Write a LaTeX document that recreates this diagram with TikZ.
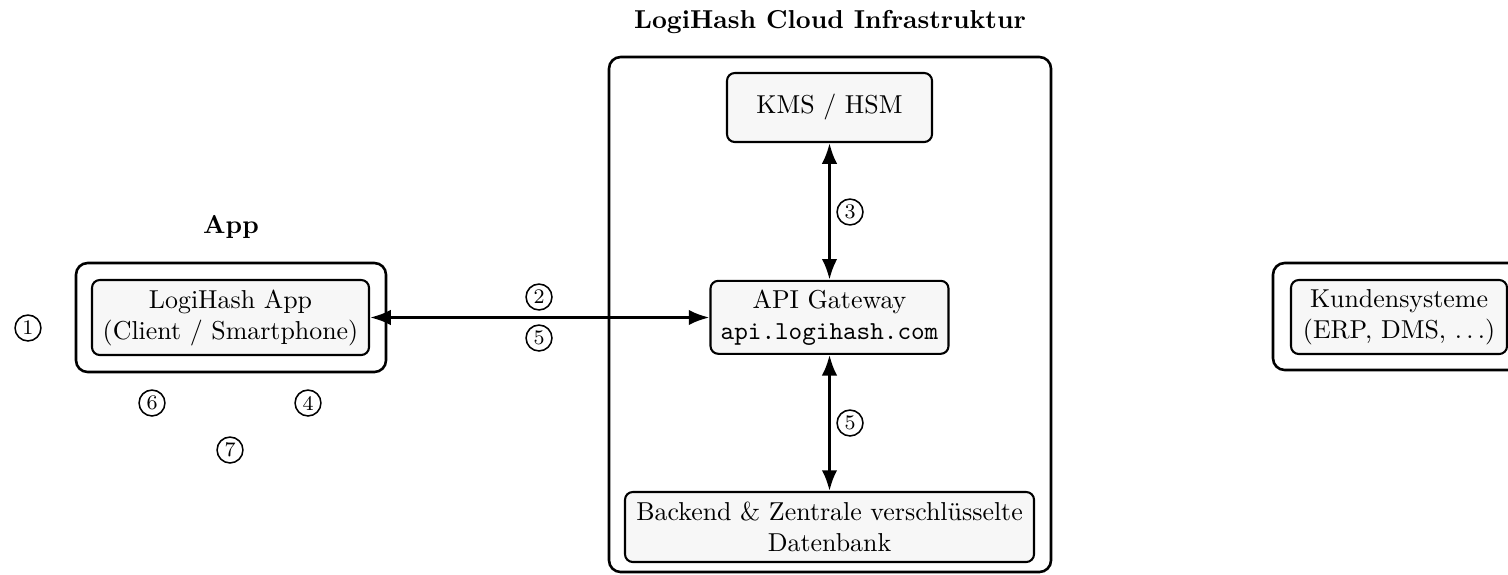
\documentclass[tikz,border=0pt]{standalone}
\usetikzlibrary{arrows.meta}
\tikzset{
  innerbox/.style={draw, thick, rounded corners=3pt, fill=black!3, align=center, inner sep=1pt},
  groupbox/.style={draw, line width=1pt, rounded corners=4.5pt},
  numlbl/.style={draw, circle, semithick, inner sep=0pt, minimum size=10pt, font=\footnotesize},
  grouptitle/.style={font=\bfseries},
  biarrow/.style={{Latex[length=8pt,width=6pt]}-{Latex[length=8pt,width=6pt]}, line width=1.2pt},
}
\begin{document}
\begin{tikzpicture}[x=0.3861pt, y=-0.3861pt]
\useasboundingbox (0,0) rectangle (1508,574);
% titles
\node[grouptitle] (cloudtitle) at (830,22) {LogiHash Cloud Infrastruktur};
\node[grouptitle] (apptitle) at (231,227) {App};
% outer groups
\node[groupbox, minimum width={442*0.3861pt}, minimum height={515*0.3861pt}] (cloud) at (830,314.5) {};
\node[groupbox, minimum width={310*0.3861pt}, minimum height={109*0.3861pt}] (appgroup) at (231,317.5) {};
\node[groupbox, minimum width={252*0.3861pt}, minimum height={107*0.3861pt}] (kundengroup) at (1399,316.5) {};
% inner nodes
\node[innerbox, minimum width={277*0.3861pt}, minimum height={75*0.3861pt}] (app) at (230.5,317.5) {LogiHash App\\(Client / Smartphone)};
\node[innerbox, minimum width={205*0.3861pt}, minimum height={69*0.3861pt}] (kms) at (829.5,107.5) {KMS / HSM};
\node[innerbox, minimum width={238*0.3861pt}, minimum height={73*0.3861pt}] (api) at (829.5,317.3) {API Gateway\\\texttt{api.logihash.com}};
\node[innerbox, minimum width={409*0.3861pt}, minimum height={70*0.3861pt}] (backend) at (829.5,527) {Backend \& Zentrale verschlüsselte\\Datenbank};
\node[innerbox, minimum width={216*0.3861pt}, minimum height={74*0.3861pt}] (kunden) at (1399,317) {Kundensysteme\\(ERP, DMS, $\dots$)};
% connectors
\draw[biarrow] (app.east) -- (app.east -| api.west);
\draw[biarrow] (kms.south) -- (api.north);
\draw[biarrow] (api.south) -- (backend.north);
% step labels
\node[numlbl] (n1) at (28,328) {1};
\node[numlbl] (n2) at (539,297) {2};
\node[numlbl] (n5a) at (539,338) {5};
\node[numlbl] (n3) at (850,212) {3};
\node[numlbl] (n5b) at (850,423) {5};
\node[numlbl] (n6) at (152,403) {6};
\node[numlbl] (n4) at (308,403) {4};
\node[numlbl] (n7) at (230,450) {7};
\end{tikzpicture}
\end{document}
